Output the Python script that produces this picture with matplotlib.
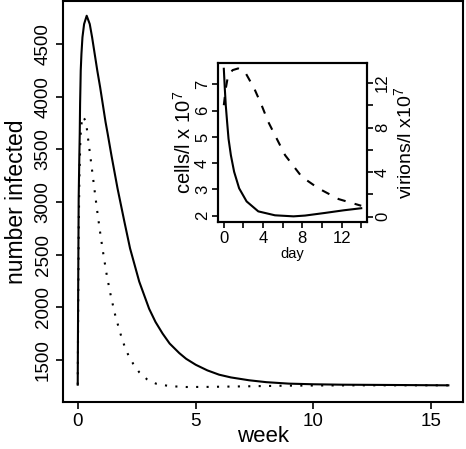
import matplotlib
matplotlib.use("Agg")
import matplotlib.pyplot as plt
import numpy as np

plt.rcParams['font.family'] = ['Liberation Sans', 'DejaVu Sans']
plt.rcParams['mathtext.default'] = 'regular'

# main panel: number infected over weeks
week_solid = [0, 0.015, 0.04, 0.065, 0.085, 0.10, 0.114, 0.127, 0.157, 0.20, 0.27, 0.38,
              0.51, 0.61, 0.72, 0.83, 0.95, 1.06, 1.18, 1.27, 1.43, 1.69, 1.98, 2.22, 2.61,
              3.03, 3.30, 3.60, 3.90, 4.31, 4.60, 5.01, 5.50, 6.00, 6.50, 7.27, 8.00,
              8.96, 10.0, 11.21, 15.73]
inf_solid = [1264, 2000, 3032, 3400, 3648, 3932, 4090, 4247, 4405, 4563, 4689, 4768,
             4689, 4563, 4405, 4247, 4090, 3932, 3759, 3648, 3442, 3127, 2812, 2559, 2243,
             1985, 1860, 1750, 1655, 1564, 1510, 1453, 1400, 1359, 1333, 1306, 1288,
             1274, 1268, 1264, 1258]

week_dot = [0, 0.02, 0.04, 0.07, 0.11, 0.14, 0.21, 0.28, 0.36, 0.41, 0.52, 0.63, 0.74, 0.85,
            0.97, 1.10, 1.24, 1.41, 1.60, 1.84, 1.98, 2.15, 2.36, 2.61, 2.94, 3.32, 3.9,
            4.6, 5.5, 7.0, 9.0, 12.0, 15.73]
inf_dot = [1264, 2000, 2720, 3222, 3572, 3714, 3812, 3790, 3749, 3651, 3458, 3262, 3065, 2874,
           2679, 2486, 2294, 2101, 1915, 1728, 1634, 1543, 1460, 1382, 1315, 1274, 1250,
           1242, 1243, 1248, 1255, 1258, 1258]

# inset: cells and virions over days
day_cells = [0, 0.1, 0.2, 0.34, 0.48, 0.72, 1.05, 1.56, 2.32, 3.51, 5.21, 7.1, 8.28, 10.3, 12.2, 14]
cells = [7.60, 6.85, 6.20, 5.55, 4.93, 4.30, 3.67, 3.04, 2.54, 2.16, 2.01, 1.97, 2.00, 2.10, 2.20, 2.28]

day_vir = [0, 0.2, 0.44, 0.9, 1.46, 2.15, 3.1, 3.85, 4.53, 5.39, 6.24, 7.09, 7.94, 9.64, 11.69, 13.73, 14]
virions = [10.0, 11.5, 12.7, 13.15, 13.3, 13.0, 11.5, 10.0, 8.5, 7.0, 5.52, 4.55, 3.58, 2.54, 1.58, 1.05, 0.98]


def rlim(v):
    # R style 4% padding
    lo, hi = min(v), max(v)
    d = (hi - lo) * 0.04
    return lo - d, hi + d


fig = plt.figure(figsize=(4.66, 4.49), dpi=100)

# ---- main plot ----
ax = fig.add_axes([0.135, 0.105, 0.859, 0.893])
ax.plot(week_solid, inf_solid, color='black', lw=1.5)
ax.plot(week_dot, inf_dot, color='black', lw=1.5, linestyle=(0, (1, 4)), dash_capstyle='butt')
ax.set_xlim(rlim(week_solid))
ax.set_ylim(rlim(inf_solid + inf_dot))
ax.set_xticks([0, 5, 10, 15])
ax.set_yticks([1500, 2000, 2500, 3000, 3500, 4000, 4500])
ax.tick_params(direction='out', length=5, width=1.2, labelsize=13.5, pad=3)
ax.tick_params(axis='y', labelrotation=90)
for lab in ax.get_yticklabels():
    lab.set_va('center')
ax.set_xlabel('week', fontsize=16, labelpad=-2.5)
ax.set_ylabel('number infected', fontsize=16.5, labelpad=5)
for s in ax.spines.values():
    s.set_linewidth(1.5)

# ---- inset ----
ins = fig.add_axes([0.4685, 0.505, 0.3185, 0.355])
ins.plot(day_cells, cells, color='black', lw=1.5)
ins.set_xlim(rlim(day_cells))
ins.set_ylim(rlim(cells))
ins.set_xticks([0, 2, 4, 6, 8, 10, 12, 14])
ins.set_xticklabels(['0', '', '4', '', '8', '', '12', ''])
ins.set_yticks([2, 3, 4, 5, 6, 7])
ins.tick_params(direction='out', length=4, width=1.2, labelsize=12, pad=2)
ins.tick_params(axis='y', labelrotation=90)
for lab in ins.get_yticklabels():
    lab.set_va('center')
ins.set_xlabel('day', fontsize=10.5, labelpad=1)
ins.set_ylabel(r'cells/l x 10$^{7}$', fontsize=14.5, labelpad=0)
for s in ins.spines.values():
    s.set_linewidth(1.5)

ins2 = ins.twinx()
ins2.plot(day_vir, virions, color='black', lw=1.5, linestyle=(0, (4, 4.5)), dash_capstyle='butt')
ins2.set_ylim(-0.5, 13.8)
ins2.set_yticks([0, 2, 4, 6, 8, 10, 12])
ins2.set_yticklabels(['0', '', '4', '', '8', '', '12'])
ins2.tick_params(direction='out', length=4, width=1.2, labelsize=12, pad=2)
ins2.tick_params(axis='y', labelrotation=90)
for lab in ins2.get_yticklabels():
    lab.set_va('center')
ins2.set_ylabel(r'virions/l x10$^{7}$', fontsize=14, labelpad=2, rotation=90)
for s in ins2.spines.values():
    s.set_linewidth(1.5)

fig.savefig('out.png', dpi=100)
